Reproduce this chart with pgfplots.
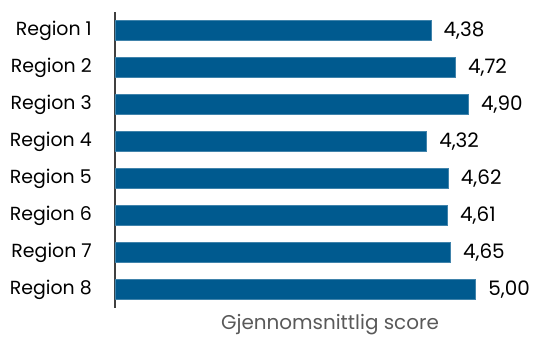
\documentclass[border=0pt]{standalone}
\usepackage{pgfplots}
\pgfplotsset{compat=1.18}
\usepackage{fontspec}
\setmainfont{Poppins}
\definecolor{barblue}{RGB}{0,90,143}
\definecolor{labelgray}{RGB}{89,89,89}
\begin{document}
\begin{tikzpicture}[x=1bp,y=1bp]
\path[use as bounding box] (-115,-30) rectangle (422,308);
\begin{axis}[
  at={(0,0)}, anchor=south west,
  scale only axis, width=360.7bp, height=296bp,
  xbar, bar width=20bp,
  xmin=0, xmax=5,
  ymin=0.5, ymax=8.5, y dir=reverse,
  ytick={1,...,8},
  yticklabels={Region 1,Region 2,Region 3,Region 4,Region 5,Region 6,Region 7,Region 8},
  axis lines*=left,
  x axis line style={draw=none},
  y axis line style={draw=black!75, line width=1.2bp},
  xtick=\empty,
  major tick length=0pt,
  yticklabel style={font=\fontsize{19}{22}\selectfont, inner sep=0pt, xshift=-23bp},
  xlabel={Gjennomsnittlig score},
  xlabel style={at={(axis description cs:0.596,0)}, anchor=base, yshift=-21bp,
    font=\fontsize{20}{23}\selectfont, text=labelgray},
  nodes near coords,
  /pgf/number format/.cd, use comma, fixed, fixed zerofill, precision=2, assume math mode=true,
  /pgfplots/.cd,
  every node near coord/.append style={font=\fontsize{20}{23}\selectfont, anchor=west, xshift=9bp, text=black},
  clip=false,
]
\addplot[fill=barblue, draw=barblue!75!white, line width=0.6bp] coordinates {
  (4.38,1) (4.72,2) (4.90,3) (4.32,4) (4.62,5) (4.61,6) (4.65,7) (5.00,8)
};
\end{axis}
\end{tikzpicture}
\end{document}
